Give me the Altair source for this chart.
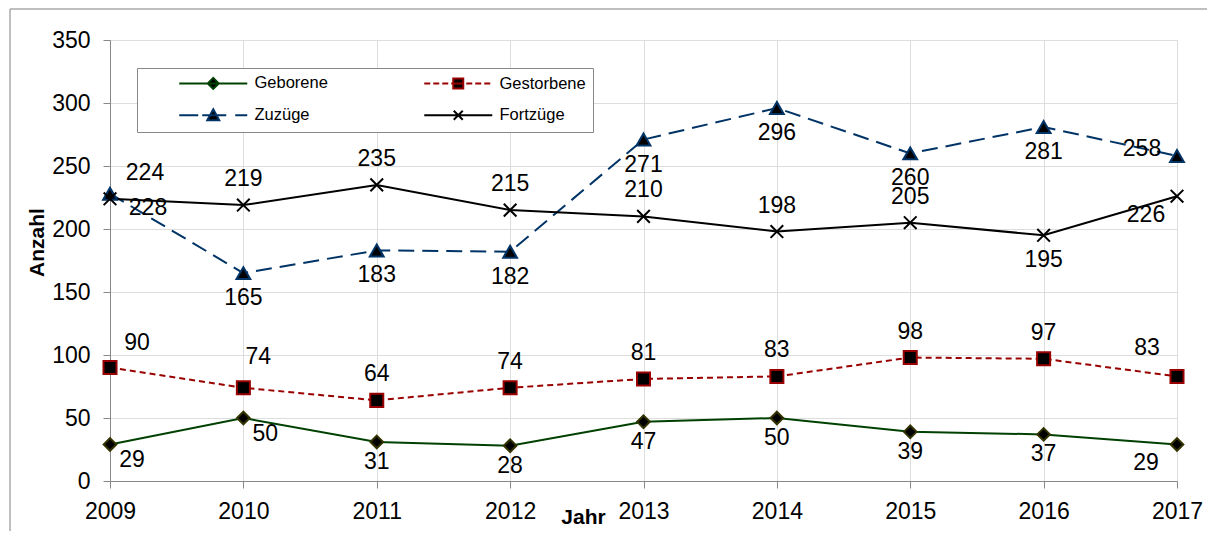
import altair as alt
import pandas as pd

# ---------------- data ----------------
years = [2009, 2010, 2011, 2012, 2013, 2014, 2015, 2016, 2017]
geborene = [29, 50, 31, 28, 47, 50, 39, 37, 29]
gestorbene = [90, 74, 64, 74, 81, 83, 98, 97, 83]
zuzuege = [228, 165, 183, 182, 271, 296, 260, 281, 258]
fortzuege = [224, 219, 235, 215, 210, 198, 205, 195, 226]
series_names = ["Geborene", "Gestorbene", "Zuzüge", "Fortzüge"]
y_ticks = [0, 50, 100, 150, 200, 250, 300, 350]

# where each data label sits relative to its point
place_geb = ["below-right", "below-right", "below-near", "below-near", "below-near",
             "below-near", "below-near", "below-near", "below-left"]
place_gest = ["above-right", "above-right-near", "above", "above", "above",
              "above", "above", "above", "above-left"]
place_zuz = ["below-right-far", "below", "below", "below", "below",
             "below", "below", "below", "left"]
place_fort = ["above-right-far", "above", "above", "above", "above",
              "above", "above", "below", "below-left"]

values = {"Geborene": geborene, "Gestorbene": gestorbene,
          "Zuzüge": zuzuege, "Fortzüge": fortzuege}
places = {"Geborene": place_geb, "Gestorbene": place_gest,
          "Zuzüge": place_zuz, "Fortzüge": place_fort}

rows = []
for s in series_names:
    for yr, v, p in zip(years, values[s], places[s]):
        rows.append({"year": yr, "series": s, "value": v, "placement": p})
df = pd.DataFrame(rows)

# ---------------- styles ----------------
FONT = "Liberation Sans"
X_PATH = "M-1,-1L1,1M-1,1L1,-1"
styles = {
    "Geborene": dict(line="#004000", dash=None, shape="diamond", fill="black", stroke="#333300", size=160),
    "Gestorbene": dict(line="#990000", dash=[6, 4], shape="square", fill="black", stroke="#990000", size=170),
    "Zuzüge": dict(line="#003366", dash=[16, 8], shape="triangle-up", fill="black", stroke="#003366", size=190),
    "Fortzüge": dict(line="black", dash=None, shape=X_PATH, fill=None, stroke="black", size=160),
}
OFFSETS = {
    "above": (0, -26), "below": (0, 25), "below-near": (0, 20),
    "above-right": (27, -25), "above-right-near": (15, -31), "above-right-far": (35, -26),
    "below-right": (22, 16), "below-right-far": (38, 14),
    "below-left": (-31, 19), "above-left": (-30, -28), "left": (-35, -7),
}

x_enc = alt.X("year:Q", scale=alt.Scale(domain=[2009, 2017], nice=False, zero=False),
              axis=alt.Axis(values=years, format="d", title="Jahr", tickSize=7,
                            labelPadding=12, labelFontSize=23, labelFlush=False,
                            titleFontSize=21, titleFontWeight="bold",
                            titleX=473, titleY=36, titleBaseline="middle", titleAlign="center"))
y_enc = alt.Y("value:Q", scale=alt.Scale(domain=[0, 350], nice=False),
              axis=alt.Axis(values=y_ticks, title="Anzahl", tickSize=7, labelPadding=13,
                            labelFontSize=23, titleFontSize=21, titleFontWeight="bold",
                            titleX=-73, titleY=202, titleAlign="center", titleBaseline="middle"))

layers = []
# frame of the whole picture (decoration)
frame = pd.DataFrame({"k": [0]})
layers.append(alt.Chart(frame).mark_rule(color="#aaaaaa", strokeWidth=1.5).encode(
    x=alt.value(-100), y=alt.value(-31), y2=alt.value(500)))
layers.append(alt.Chart(frame).mark_rule(color="#aaaaaa", strokeWidth=1.5).encode(
    x=alt.value(-100), x2=alt.value(1100), y=alt.value(-31)))

for s in series_names:
    st = styles[s]
    kw = dict(color=st["line"], strokeWidth=2)
    if st["dash"]:
        kw["strokeDash"] = st["dash"]
    layers.append(alt.Chart(df).transform_filter(alt.datum.series == s)
                  .mark_line(**kw).encode(x=x_enc, y=y_enc))
for s in series_names:
    st = styles[s]
    if st["fill"]:
        mk = alt.Chart(df).mark_point(filled=True, shape=st["shape"], size=st["size"],
                                      fill=st["fill"], stroke=st["stroke"], strokeWidth=2, opacity=1)
    else:
        mk = alt.Chart(df).mark_point(filled=False, shape=st["shape"], size=st["size"],
                                      stroke=st["stroke"], strokeWidth=2, opacity=1)
    layers.append(mk.transform_filter(alt.datum.series == s).encode(x=x_enc, y=y_enc))

for p, (dx, dy) in OFFSETS.items():
    layers.append(alt.Chart(df).transform_filter(alt.datum.placement == p)
                  .mark_text(dx=dx, dy=dy, font=FONT, fontSize=23, color="black",
                             align="center", baseline="middle")
                  .encode(x=x_enc, y=y_enc, text="value:Q"))

# ---------------- legend (line + marker symbols) ----------------
UNIT = 7.0  # pixels per path unit for symbolSize 196


def u(v):
    return f"{v / UNIT:.4f}"


def dashed(a, b, on, off):
    out, t = [], a
    while t < b:
        e = min(t + on, b)
        out.append(f"M{u(t)},0H{u(e)}")
        t = e + off
    return "".join(out)


L = 34
leg_paths = {
    "Geborene": f"M{u(-L)},0H{u(L)}M0,{u(-5.5)}L{u(5.5)},0L0,{u(5.5)}L{u(-5.5)},0Z",
    "Gestorbene": dashed(-L, -6, 6, 3) + f"M{u(-6)},0H{u(6)}" + dashed(8, L, 6, 3)
    + f"M{u(-5)},{u(-5)}H{u(5)}V{u(5)}H{u(-5)}Z",
    "Zuzüge": f"M{u(-L)},0H{u(-15)}M{u(-11)},0H{u(13)}M{u(22)},0H{u(L)}"
    + f"M0,{u(-6)}L{u(6)},{u(5)}L{u(-6)},{u(5)}Z",
    "Fortzüge": f"M{u(-L)},0H{u(L)}M{u(-4.5)},{u(-4.5)}L{u(4.5)},{u(4.5)}M{u(-4.5)},{u(4.5)}L{u(4.5)},{u(-4.5)}",
}
leg_colors = {"Geborene": "#004000", "Gestorbene": "#990000", "Zuzüge": "#003366", "Fortzüge": "black"}
leg_order = ["Geborene", "Zuzüge", "Gestorbene", "Fortzüge"]  # legend fills column by column

leg = alt.Legend(title=None, orient="none", legendX=27, legendY=28, columns=2,
                 symbolSize=196, symbolStrokeWidth=2, symbolOffset=61,
                 labelFont=FONT, labelFontSize=16.5, labelColor="black", labelOffset=33,
                 labelExpr="(datum.label == 'Gestorbene' || datum.label == 'Fortzüge') ? datum.label + '\u2003\u2003' : datum.label",
                 columnPadding=61, rowPadding=12, padding=7,
                 strokeColor="#888888", fillColor="white")
legend_layer = (alt.Chart(df).transform_filter("datum.year < 0")
                .mark_point(filled=True, opacity=1, strokeWidth=2)
                .encode(x=x_enc, y=y_enc,
                        shape=alt.Shape("series:N", scale=alt.Scale(domain=leg_order,
                                        range=[leg_paths[s] for s in leg_order]), legend=leg),
                        stroke=alt.Stroke("series:N", scale=alt.Scale(domain=leg_order,
                                          range=[leg_colors[s] for s in leg_order]), legend=leg),
                        fill=alt.Fill("series:N", scale=alt.Scale(domain=leg_order,
                                      range=["black"] * 4), legend=leg)))
layers.append(legend_layer)

chart = (alt.layer(*layers)
         .properties(width=1067, height=441,
                     autosize=alt.AutoSizeParams(type="none"),
                     padding={"left": 102, "top": 32, "right": 30, "bottom": 50})
         .configure_view(stroke="#999999", strokeWidth=2)
         .configure_axis(grid=False, domainColor="black", domainWidth=1.5, tickColor="black",
                         tickWidth=1, labelColor="black", titleColor="black",
                         labelFont=FONT, titleFont=FONT)
         .configure(background="white"))

chart.save("out.html", embed_options={"renderer": "svg", "actions": False})
